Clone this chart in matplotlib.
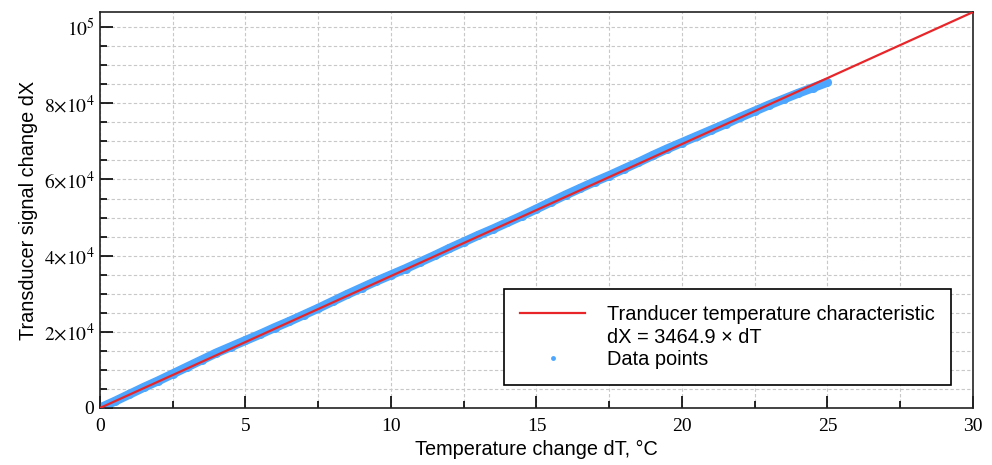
import matplotlib
matplotlib.use('Agg')
import matplotlib.pyplot as plt
from matplotlib.lines import Line2D
from matplotlib.ticker import MultipleLocator, FixedLocator, FixedFormatter
import numpy as np

dT = [0, 0.5, 1, 1.5, 2, 2.5, 3, 3.5, 4, 4.5, 5, 5.5, 6, 6.5, 7, 7.5, 8, 8.5,
      9, 9.5, 10, 10.5, 11, 11.5, 12, 12.5, 13, 13.5, 14, 14.5, 15, 15.5, 16,
      16.5, 17, 17.5, 18, 18.5, 19, 19.5, 20, 20.5, 21, 21.5, 22, 22.5, 23,
      23.5, 24, 24.5, 25]
dX = [0, 1732, 3565, 5397, 7130, 8962, 10795, 12627, 14460, 16092, 17725,
      19357, 21089, 22722, 24454, 26187, 28019, 29852, 31584, 33317, 34949,
      36581, 38314, 40046, 41879, 43611, 45344, 46976, 48709, 50441, 52274,
      54106, 55938, 57671, 59403, 61036, 62768, 64501, 66333, 68066, 69698,
      71330, 72963, 74595, 76328, 77960, 79593, 81125, 82658, 84090, 85522]

slope = 3464.9
fit_dT = np.array([0, 30])
fit_dX = slope * fit_dT

y_ticks = [0, 20000, 40000, 60000, 80000, 100000]
y_labels = ['0', r'$2{\times}10^{4}$', r'$4{\times}10^{4}$', r'$6{\times}10^{4}$',
            r'$8{\times}10^{4}$', r'$10^{5}$']

plt.rcParams['mathtext.fontset'] = 'stix'

blue = '#4da6ff'
red = '#e8262a'

fig = plt.figure(figsize=(9.92, 4.65), dpi=100)
ax = fig.add_axes([0.1008, 0.1226, 0.88, 0.8514])

# data band
ax.plot(dT, dX, color=blue, lw=6.5, solid_capstyle='butt', zorder=2)
ax.plot(dT, dX, 'o', color=blue, ms=6.5, mec='none', zorder=2)
ax.plot(fit_dT, fit_dX, color=red, lw=1.6, zorder=3)

ax.set_xlim(0, 30)
ax.set_ylim(0, slope * 30)

ax.xaxis.set_major_locator(MultipleLocator(5))
ax.xaxis.set_minor_locator(MultipleLocator(2.5))
ax.yaxis.set_major_locator(FixedLocator(y_ticks))
ax.yaxis.set_major_formatter(FixedFormatter(y_labels))
ax.yaxis.set_minor_locator(MultipleLocator(5000))

ax.tick_params(which='both', direction='in', top=False, right=False,
               labelsize=14, width=1.2, pad=4)
ax.tick_params(axis='x', which='major', pad=7)
ax.tick_params(which='major', length=9)
ax.tick_params(which='minor', length=5)
for lbl in ax.get_xticklabels() + ax.get_yticklabels():
    lbl.set_family('Liberation Serif')

ax.grid(True, which='both', color='#c8c8c8', lw=0.8, ls=(0, (3, 2)))
ax.set_axisbelow(True)
for s in ax.spines.values():
    s.set_linewidth(1.2)
    s.set_color('#222222')

ax.set_xlabel('Temperature change dT, \u00b0C', fontsize=14.3,
              family='Liberation Sans', labelpad=4)
ax.set_ylabel('Transducer signal change dX', fontsize=14.3,
              family='Liberation Sans', labelpad=4)

# legend: fit line label on first row, equation on its own row
handles = [Line2D([], [], color=red, lw=1.6),
           Line2D([], [], color='none'),
           Line2D([], [], color=blue, marker='o', ls='', ms=3.5, mec='none')]
labels = ['Tranducer temperature characteristic',
          'dX = 3464.9 \u00d7 dT',
          'Data points']
leg = ax.legend(handles, labels, loc='lower right',
                bbox_to_anchor=(0.975, 0.058),
                prop={'family': 'Liberation Sans', 'size': 14.4},
                fancybox=False, framealpha=1, edgecolor='black',
                handlelength=3.25, borderpad=0.8, labelspacing=0.17,
                handletextpad=1.1, borderaxespad=0)
leg.get_frame().set_linewidth(1.2)

fig.savefig('out.png', dpi=100)
